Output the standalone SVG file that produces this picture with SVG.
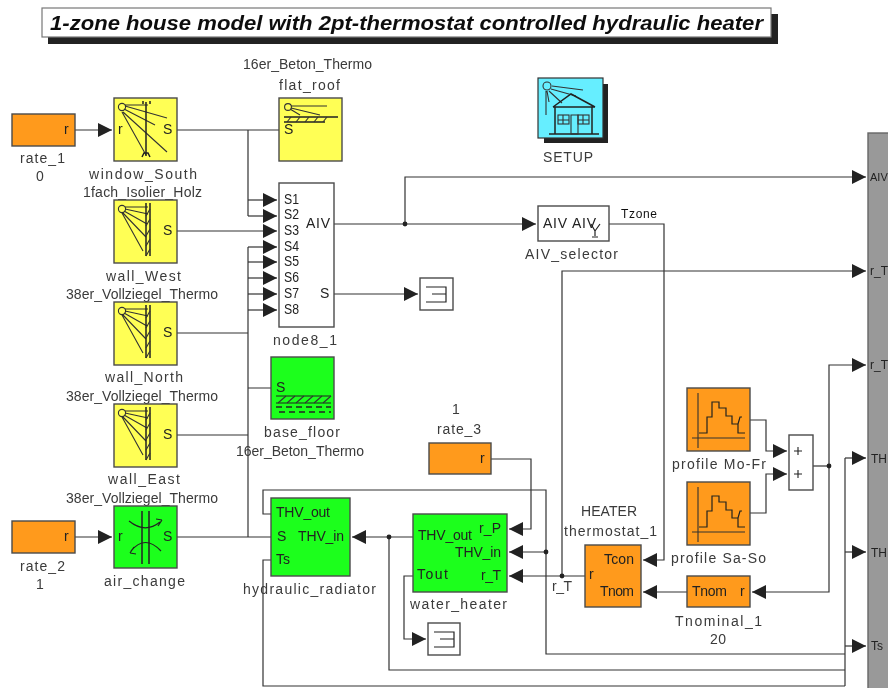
<svg xmlns="http://www.w3.org/2000/svg" xmlns:xlink="http://www.w3.org/1999/xlink" width="888" height="688" viewBox="0 0 888 688">
<style>
text{font-family:"Liberation Sans",Arial,sans-serif;font-size:14px;fill:#3a3a3a}
.in{fill:#222}
.b{stroke:#4a4a4a;stroke-width:1.4}
.y{fill:#ffff55}.g{fill:#1cff1c}.o{fill:#ff9a1a}.w{fill:#fff}
.w2{fill:none;stroke:#333;stroke-width:1.2}
.a{marker-end:url(#arrow)}
.ic{fill:none;stroke:#333;stroke-width:1.1}
.ic2{fill:none;stroke:#222;stroke-width:1.5}
</style>
<defs>
<filter id="soft" x="0" y="0" width="100%" height="100%"><feGaussianBlur stdDeviation="0.45"/></filter>
<marker id="arrow" markerUnits="userSpaceOnUse" markerWidth="14" markerHeight="14" refX="14" refY="7" orient="auto"><path d="M0 0L14 7L0 14Z" fill="#222"/></marker>
<g id="wallIcon">
<circle cx="8" cy="9" r="3.6" class="ic"/>
<path class="ic" d="M11 7L34 7M11 9L34 14M10 11L33 24M9 13L32 37M8 13L29 51"/>
<path class="ic2" d="M36 3V56M32 3V56"/>
<path class="ic" d="M32 16L36 9M32 26L36 19M32 36L36 29M32 46L36 39M32 56L36 49"/>
</g>
<g id="profileIcon">
<path class="ic" d="M11 5V60M5 50H58"/>
<path class="ic2" style="stroke-width:1.2" d="M12 45H20V29H25V14H32V20H39V28H45V36H51V45H58M51 36L53 29H55"/>
</g>
</defs>
<g filter="url(#soft)">
<rect width="888" height="688" fill="#fff"/>

<g id="title">
<rect x="48" y="14" width="730" height="30" fill="#222"/>
<rect x="42" y="8" width="729" height="29" class="w" stroke="#777" stroke-width="1.2"/>
<text x="50" y="30" textLength="713" lengthAdjust="spacingAndGlyphs" style="font-size:20px;font-weight:bold;font-style:italic;fill:#111">1-zone house model with 2pt-thermostat controlled hydraulic heater</text>
</g>

<g id="connectors">
<path class="w2 a" d="M75 130H112"/>
<path class="w2" d="M177 130H279M248 130V216"/>
<path class="w2 a" d="M248 200H277"/>
<path class="w2 a" d="M248 216H277"/>
<path class="w2 a" d="M177 231H277"/>
<path class="w2" d="M248 247V537"/>
<path class="w2 a" d="M248 247H277"/>
<path class="w2 a" d="M248 262H277"/>
<path class="w2 a" d="M248 278H277"/>
<path class="w2 a" d="M248 294H277"/>
<path class="w2 a" d="M248 310H277"/>
<path class="w2" d="M177 333H248M177 435H248M248 388H271"/>
<path class="w2 a" d="M75 537H112"/>
<path class="w2" d="M177 537H271"/>
<path class="w2 a" d="M334 224H536"/>
<path class="w2 a" d="M405 224V177H866"/>
<path class="w2 a" d="M334 294H418"/>
<path class="w2 a" d="M609 224H664V560H643"/>
<path class="w2 a" d="M562 576V271H866"/>
<path class="w2 a" d="M585 576H509"/>
<path class="w2 a" d="M491 459H531V529H509"/>
<path class="w2 a" d="M546 552H509"/>
<path class="w2" d="M845 654H546V490H263V514H271"/>
<path class="w2 a" d="M413 537H352"/>
<path class="w2" d="M389 537V670H845"/>
<path class="w2" d="M271 560H263V686H845"/>
<path class="w2 a" d="M413 576H404V639H426"/>
<path class="w2" d="M845 686V458"/>
<path class="w2 a" d="M845 458H866"/>
<path class="w2 a" d="M845 552H866"/>
<path class="w2 a" d="M845 646H866"/>
<path class="w2" d="M813 466H829"/>
<path class="w2 a" d="M829 466V365H866"/>
<path class="w2 a" d="M829 466V592H752"/>
<path class="w2 a" d="M687 592H643"/>
<path class="w2 a" d="M750 420H766V451H787"/>
<path class="w2 a" d="M750 513H766V474H787"/>
<g fill="#222"><circle cx="405" cy="224" r="2.4"/><circle cx="562" cy="576" r="2.4"/><circle cx="546" cy="552" r="2.4"/><circle cx="389" cy="537" r="2.4"/><circle cx="829" cy="466" r="2.4"/></g>
</g>

<g id="rate_1"><rect x="12" y="114" width="63" height="32" class="o b"/><text x="64" y="134" class="in">r</text><text x="20" y="163" textLength="45">rate_1</text><text x="36" y="181">0</text></g>
<g id="window_South"><rect x="114" y="98" width="63" height="63" class="y b"/>
<circle cx="122" cy="107" r="3.6" class="ic"/><path class="ic" d="M125 105H148M125 106L167 118M124 109L155 125M123 112L167 152M122 112L146 155"/><path class="ic2" d="M146 102V156M143 101V104M150 101V104M142 157L144 153H148L150 157"/><text x="118" y="134" class="in">r</text><text x="163" y="134" class="in">S</text>
<text x="89" y="179" textLength="108">window_South</text><text x="83" y="197" textLength="119">1fach_Isolier_Holz</text></g>
<g id="flat_roof"><rect x="279" y="98" width="63" height="63" class="y b"/>
<circle cx="288" cy="107" r="3.4" class="ic"/><path class="ic" d="M291 106H327M291 108L320 115M290 109L300 115"/><path class="ic2" d="M284 117H338M284 122H325"/><path class="ic" d="M287 122L291 117M296 122L300 117M305 122L309 117M314 122L318 117M323 122L327 117"/><text x="284" y="134" class="in">S</text>
<text x="243" y="69" textLength="129">16er_Beton_Thermo</text><text x="279" y="90" textLength="61">flat_roof</text></g>
<g id="wall_West"><rect x="114" y="200" width="63" height="63" class="y b"/><use xlink:href="#wallIcon" href="#wallIcon" x="114" y="200"/><text x="163" y="235" class="in">S</text>
<text x="106" y="281" textLength="75">wall_West</text><text x="66" y="299" textLength="152">38er_Vollziegel_Thermo</text></g>
<g id="wall_North"><rect x="114" y="302" width="63" height="63" class="y b"/><use xlink:href="#wallIcon" href="#wallIcon" x="114" y="302"/><text x="163" y="337" class="in">S</text>
<text x="105" y="382" textLength="78">wall_North</text><text x="66" y="401" textLength="152">38er_Vollziegel_Thermo</text></g>
<g id="wall_East"><rect x="114" y="404" width="63" height="63" class="y b"/><use xlink:href="#wallIcon" href="#wallIcon" x="114" y="404"/><text x="163" y="439" class="in">S</text>
<text x="108" y="484" textLength="72">wall_East</text><text x="66" y="503" textLength="152">38er_Vollziegel_Thermo</text></g>
<g id="rate_2"><rect x="12" y="521" width="63" height="32" class="o b"/><text x="64" y="541" class="in">r</text><text x="20" y="571" textLength="45">rate_2</text><text x="36" y="589">1</text></g>
<g id="air_change"><rect x="114" y="506" width="63" height="62" class="g b"/>
<path class="ic2" d="M142 511V564M149 511V564"/><path class="ic2" style="stroke-width:1.2" d="M129 521Q145 534 160 522M162 520L156 519M162 520L158 526M161 551Q145 534 131 551M130 553L136 554M130 553L134 547"/><text x="118" y="541" class="in">r</text><text x="163" y="541" class="in">S</text>
<text x="104" y="586" textLength="81">air_change</text></g>
<g id="node8_1"><rect x="279" y="183" width="55" height="144" class="w b"/>
<text x="284" y="204" class="in" textLength="15" lengthAdjust="spacingAndGlyphs">S1</text><text x="284" y="219" class="in" textLength="15" lengthAdjust="spacingAndGlyphs">S2</text><text x="284" y="235" class="in" textLength="15" lengthAdjust="spacingAndGlyphs">S3</text><text x="284" y="251" class="in" textLength="15" lengthAdjust="spacingAndGlyphs">S4</text><text x="284" y="266" class="in" textLength="15" lengthAdjust="spacingAndGlyphs">S5</text><text x="284" y="282" class="in" textLength="15" lengthAdjust="spacingAndGlyphs">S6</text><text x="284" y="298" class="in" textLength="15" lengthAdjust="spacingAndGlyphs">S7</text><text x="284" y="314" class="in" textLength="15" lengthAdjust="spacingAndGlyphs">S8</text><text x="306" y="228" class="in" textLength="24">AIV</text><text x="320" y="298" class="in">S</text>
<text x="273" y="345" textLength="64">node8_1</text></g>
<g id="scope_1"><rect x="420" y="278" width="33" height="32" class="w b"/><path class="ic2" style="stroke-width:1.2" d="M426 287H446V302H426M432 294H446"/></g>
<g id="base_floor"><rect x="271" y="357" width="63" height="62" class="g b"/>
<text x="276" y="392" class="in">S</text><path class="ic2" style="stroke-width:1.2" d="M276 396H331M276 403H331"/><path class="ic" d="M278 403L286 396M287 403L295 396M296 403L304 396M305 403L313 396M314 403L322 396M323 403L331 396"/><path class="ic2" stroke-dasharray="6 4" d="M276 407H331M279 412H331"/>
<text x="264" y="437" textLength="76">base_floor</text><text x="236" y="456" textLength="128">16er_Beton_Thermo</text></g>
<g id="SETUP"><rect x="544" y="84" width="64" height="59" fill="#222"/><rect x="538" y="78" width="65" height="60" fill="#66eeff" stroke="#333" stroke-width="1.2"/>
<circle cx="547" cy="86" r="4" class="ic"/><path class="ic" d="M552 86L583 90M551 89L576 96M549 91L562 103M547 91L549 102M546 91V115"/><path class="ic2" d="M553 107L571 94L595 107M553 107H595M555 107V134M592 107V134M549 134H599"/><rect x="558" y="115" width="11" height="9" class="ic"/><rect x="578" y="115" width="11" height="9" class="ic"/><path class="ic" d="M563 115V124M558 120H569M583 115V124M578 120H589M571 115H578V134H571Z"/>
<text x="543" y="162" textLength="50">SETUP</text></g>
<g id="AIV_selector"><rect x="538" y="206" width="71" height="35" class="w b"/><text x="543" y="228" class="in" textLength="24">AIV</text><text x="572" y="228" class="in" textLength="24">AIV</text><path class="ic2" style="stroke-width:1.2" d="M591 224L595 231L600 224M595 231V236M592 237H598"/>
<text x="525" y="259" textLength="93">AIV_selector</text><text x="621" y="218" style="font-size:12px;fill:#111" textLength="36">Tzone</text></g>
<g id="hydraulic_radiator"><rect x="271" y="498" width="79" height="78" class="g b"/><text x="276" y="517" class="in" textLength="54">THV_out</text><text x="277" y="541" class="in">S</text><text x="298" y="541" class="in" textLength="46">THV_in</text><text x="276" y="564" class="in">Ts</text>
<text x="243" y="594" textLength="133">hydraulic_radiator</text></g>
<g id="rate_3"><rect x="429" y="443" width="62" height="31" class="o b"/><text x="480" y="463" class="in">r</text><text x="452" y="414">1</text><text x="437" y="434" textLength="44">rate_3</text></g>
<g id="water_heater"><rect x="413" y="514" width="94" height="78" class="g b"/><text x="418" y="540" class="in" textLength="54">THV_out</text><text x="479" y="533" class="in" textLength="22">r_P</text><text x="455" y="557" class="in" textLength="46">THV_in</text><text x="417" y="579" class="in" textLength="31">Tout</text><text x="481" y="580" class="in" textLength="20">r_T</text>
<text x="410" y="609" textLength="97">water_heater</text></g>
<g id="scope_2"><rect x="428" y="623" width="32" height="32" class="w b"/><path class="ic2" style="stroke-width:1.2" d="M434 632H454V647H434M440 639H454"/></g>
<g id="thermostat_1"><rect x="585" y="545" width="56" height="62" class="o b"/><text x="604" y="564" class="in" textLength="30">Tcon</text><text x="589" y="579" class="in">r</text><text x="600" y="596" class="in" textLength="34">Tnom</text>
<text x="581" y="516" textLength="56">HEATER</text><text x="564" y="536" textLength="93">thermostat_1</text><text x="552" y="591" textLength="20">r_T</text></g>
<g id="profile_Mo-Fr"><rect x="687" y="388" width="63" height="63" class="o b"/><use xlink:href="#profileIcon" href="#profileIcon" x="687" y="388"/><text x="672" y="469" textLength="94">profile Mo-Fr</text></g>
<g id="profile_Sa-So"><rect x="687" y="482" width="63" height="63" class="o b"/><use xlink:href="#profileIcon" href="#profileIcon" x="687" y="482"/><text x="671" y="563" textLength="95">profile Sa-So</text></g>
<g id="Tnominal_1"><rect x="687" y="576" width="63" height="31" class="o b"/><text x="692" y="596" class="in" textLength="35">Tnom</text><text x="740" y="596" class="in">r</text><text x="675" y="626" textLength="87">Tnominal_1</text><text x="710" y="644" textLength="16">20</text></g>
<g id="sum"><rect x="789" y="435" width="24" height="55" class="w b"/><path class="ic2" style="stroke-width:1.1" d="M794 451H802M798 447V455M794 474H802M798 470V478"/></g>
<g id="building"><rect x="868" y="133" width="22" height="557" fill="#999" stroke="#666" stroke-width="1.4"/><text x="870" y="181" class="in" style="font-size:11px">AIV</text><text x="870" y="275" class="in" style="font-size:12px">r_T</text><text x="870" y="369" class="in" style="font-size:12px">r_T</text><text x="871" y="463" class="in" style="font-size:12px">TH</text><text x="871" y="557" class="in" style="font-size:12px">TH</text><text x="871" y="650" class="in" style="font-size:12px">Ts</text></g>
</g>
</svg>
